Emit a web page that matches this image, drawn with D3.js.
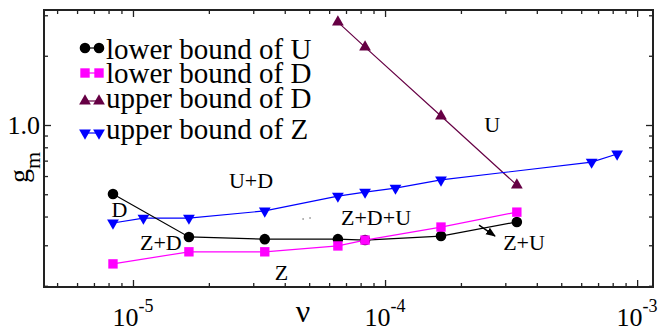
<!DOCTYPE html>
<html>
<head>
<meta charset="utf-8">
<script src="https://cdn.jsdelivr.net/npm/d3@7"></script>
<style>
  body { margin: 0; background: #fff; }
  svg { display: block; }
  text { font-family: "Liberation Serif", "Times New Roman", "DejaVu Serif", serif; fill: #000; }
</style>
</head>
<body>
<svg id="chart" width="660" height="331"></svg>
<script>
// values (nu, g_m)
var nuLowerU = [8.33e-6, 1.667e-5, 3.333e-5, 6.5e-5, 8.33e-5, 1.667e-4, 3.333e-4];
var gLowerU  = [0.501, 0.326, 0.319, 0.319, 0.316, 0.329, 0.379];

var nuLowerD = [8.33e-6, 1.667e-5, 3.333e-5, 6.5e-5, 8.33e-5, 1.667e-4, 3.333e-4];
var gLowerD  = [0.249, 0.281, 0.281, 0.298, 0.316, 0.360, 0.418];

var nuUpperD = [6.5e-5, 8.33e-5, 1.667e-4, 3.333e-4];
var gUpperD  = [2.80, 2.18, 1.094, 0.548];

var nuUpperZ = [8.33e-6, 1.1e-5, 1.667e-5, 3.333e-5, 6.5e-5, 8.33e-5, 1.1e-4, 1.667e-4, 6.6e-4, 8.33e-4];
var gUpperZ  = [0.375, 0.394, 0.394, 0.423, 0.491, 0.511, 0.532, 0.577, 0.690, 0.748];

var seriesNames = ["lower bound of U", "lower bound of D", "upper bound of D", "upper bound of Z"];

var xMajorTicks = [1e-5, 1e-4, 1e-3];
var xTickExps = ["-5", "-4", "-3"];
var yMajorTicks = [1.0];
var yTickLabels = ["1.0"];

// region labels placed in data coordinates
var regionText = ["U", "U+D", "D", "Z+D", "Z", "Z+D+U", "Z+U"];
var regionNu   = [2.66e-4, 2.94e-5, 8.84e-6, 1.29e-5, 3.88e-5, 9.21e-5, 3.56e-4];
var regionG    = [0.932, 0.532, 0.398, 0.286, 0.212, 0.367, 0.286];

var arrowNu = [2.36e-4, 2.73e-4];
var arrowG  = [0.367, 0.329];

var speckNu = [4.73e-5, 5.04e-5];
var speckG  = [0.390, 0.394];


(function() {
var svg = d3.select("#chart")
    .attr("font-family", "'Liberation Serif', 'Times New Roman', 'DejaVu Serif', serif");

var mLeft = 44, mRight = 653, mTop = 10, mBottom = 287;

var x = d3.scaleLog()
    .domain([Math.pow(10, -5.353), Math.pow(10, -2.937)])
    .range([mLeft, mRight]);
var y = d3.scaleLog()
    .domain([Math.pow(10, -0.7043), Math.pow(10, 0.5)])
    .range([mBottom, mTop]);

var defs = svg.append("defs");
defs.append("marker")
    .attr("id", "arrowhead")
    .attr("viewBox", "0 0 10 10")
    .attr("refX", 9).attr("refY", 5)
    .attr("markerWidth", 7).attr("markerHeight", 7)
    .attr("orient", "auto")
  .append("path")
    .attr("d", "M0,1 L10,5 L0,9 Z")
    .attr("fill", "#000");

// ticks
var xMinor = x.ticks().filter(function(d) { return xMajorTicks.indexOf(d) < 0; });
var yMinor = y.ticks().filter(function(d) { return Math.abs(d - 1) > 1e-9; });
var xMajorIn = xMajorTicks.filter(function(d) { return d < x.domain()[1]; });

function tickAxis(axis, pos) {
    var g = svg.append("g").attr("transform", pos).call(axis);
    g.select(".domain").remove();
    g.selectAll("line").attr("stroke", "#222").attr("stroke-width", 1.3);
    g.selectAll("text").remove();
}
tickAxis(d3.axisBottom(x).tickValues(xMinor).tickSize(-4), "translate(0," + mBottom + ")");
tickAxis(d3.axisBottom(x).tickValues(xMajorIn).tickSize(-7), "translate(0," + mBottom + ")");
tickAxis(d3.axisTop(x).tickValues(xMinor).tickSize(-4), "translate(0," + mTop + ")");
tickAxis(d3.axisTop(x).tickValues(xMajorIn).tickSize(-7), "translate(0," + mTop + ")");
tickAxis(d3.axisLeft(y).tickValues(yMinor).tickSize(-4), "translate(" + mLeft + ",0)");
tickAxis(d3.axisLeft(y).tickValues(yMajorTicks).tickSize(-7), "translate(" + mLeft + ",0)");
tickAxis(d3.axisRight(y).tickValues(yMinor).tickSize(-4), "translate(" + mRight + ",0)");
tickAxis(d3.axisRight(y).tickValues(yMajorTicks).tickSize(-7), "translate(" + mRight + ",0)");

svg.append("rect")
    .attr("x", mLeft).attr("y", mTop)
    .attr("width", mRight - mLeft).attr("height", mBottom - mTop)
    .attr("fill", "none")
    .attr("stroke", "#222")
    .attr("stroke-width", 2);

// tick labels
xMajorTicks.forEach(function(d, i) {
    var t = svg.append("text")
        .attr("x", x(d))
        .attr("y", 326)
        .attr("text-anchor", "middle")
        .attr("font-size", 26);
    t.append("tspan").text("10");
    t.append("tspan").attr("dy", -14).attr("font-size", 18).text(xTickExps[i]);
});
yMajorTicks.forEach(function(d, i) {
    svg.append("text")
        .attr("x", 40)
        .attr("y", y(d) + 9)
        .attr("text-anchor", "end")
        .attr("font-size", 26)
        .text(yTickLabels[i]);
});

// axis titles
svg.append("text")
    .attr("x", 303).attr("y", 322)
    .attr("text-anchor", "middle")
    .attr("font-size", 32)
    .text("ν");

var yl = svg.append("text")
    .attr("transform", "translate(28,183) rotate(-90)")
    .attr("font-size", 28);
yl.append("tspan").text("g");
yl.append("tspan").attr("dy", 12).attr("font-size", 22).text("m");

// series
var series = [
    { name: seriesNames[0], nu: nuLowerU, g: gLowerU, color: "#000000", shape: "circle" },
    { name: seriesNames[1], nu: nuLowerD, g: gLowerD, color: "#ff00ff", shape: "square" },
    { name: seriesNames[2], nu: nuUpperD, g: gUpperD, color: "#660044", shape: "up" },
    { name: seriesNames[3], nu: nuUpperZ, g: gUpperZ, color: "#0000ff", shape: "down" }
];

function symbolPath(shape) {
    if (shape === "circle") return d3.symbol().type(d3.symbolCircle).size(88)();
    if (shape === "square") return d3.symbol().type(d3.symbolSquare).size(88)();
    return d3.symbol().type(d3.symbolTriangle).size(60)();
}
function symbolTransform(shape, px, py) {
    return "translate(" + px + "," + py + ")" + (shape === "down" ? " rotate(180)" : "");
}

var line = d3.line()
    .x(function(d) { return x(d[0]); })
    .y(function(d) { return y(d[1]); });

// draw order: upper D, upper Z, lower U, lower D
[2, 3, 0, 1].forEach(function(k) {
    var s = series[k];
    var pts = s.nu.map(function(v, i) { return [v, s.g[i]]; });
    svg.append("path")
        .attr("d", line(pts))
        .attr("fill", "none")
        .attr("stroke", s.color)
        .attr("stroke-width", 1.2);
    svg.append("g").selectAll("path")
        .data(pts)
        .enter().append("path")
        .attr("d", symbolPath(s.shape))
        .attr("transform", function(d) { return symbolTransform(s.shape, x(d[0]), y(d[1])); })
        .attr("fill", s.color);
});

// region labels
svg.append("g").selectAll("text")
    .data(regionText)
    .enter().append("text")
    .attr("x", function(d, i) { return x(regionNu[i]); })
    .attr("y", function(d, i) { return y(regionG[i]); })
    .attr("text-anchor", "middle")
    .attr("font-size", 22)
    .text(function(d) { return d; });

svg.append("line")
    .attr("x1", x(arrowNu[0])).attr("y1", y(arrowG[0]))
    .attr("x2", x(arrowNu[1])).attr("y2", y(arrowG[1]))
    .attr("stroke", "#000")
    .attr("stroke-width", 1.4)
    .attr("marker-end", "url(#arrowhead)");

svg.append("g").selectAll("circle")
    .data(speckNu)
    .enter().append("circle")
    .attr("cx", function(d) { return x(d); })
    .attr("cy", function(d, i) { return y(speckG[i]); })
    .attr("r", 0.8)
    .attr("fill", "#666");

// legend
var legendRows = [48, 73, 101, 133];
var legendBase = [59, 83, 108, 139];
var lg = svg.append("g");
series.forEach(function(s, i) {
    lg.append("line")
        .attr("x1", 85).attr("x2", 99)
        .attr("y1", legendRows[i]).attr("y2", legendRows[i])
        .attr("stroke", s.color).attr("stroke-width", 1.2);
    [85, 99].forEach(function(px) {
        lg.append("path")
            .attr("d", symbolPath(s.shape))
            .attr("transform", symbolTransform(s.shape, px, legendRows[i]))
            .attr("fill", s.color);
    });
    lg.append("text")
        .attr("x", 106)
        .attr("y", legendBase[i])
        .attr("font-size", 29)
        .text(s.name);
});
})();
</script>
</body>
</html>
